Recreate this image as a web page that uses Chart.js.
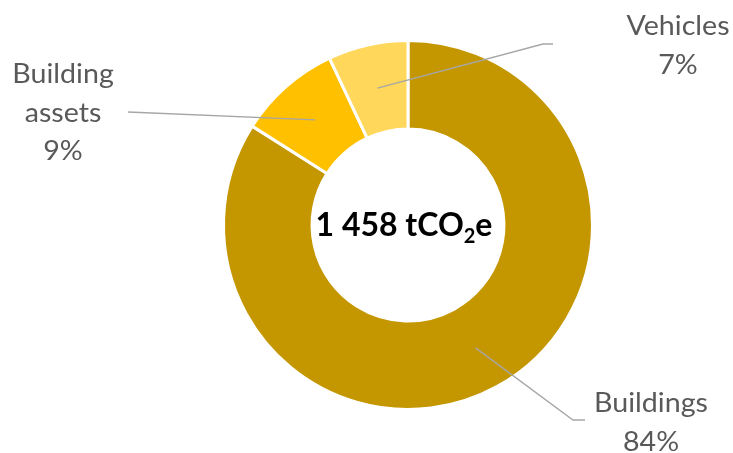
<!DOCTYPE html>
<html>
<head>
<meta charset="utf-8">
<script src="https://cdn.jsdelivr.net/npm/chart.js@4.4.1/dist/chart.umd.min.js"></script>
<style>
  html, body { margin: 0; padding: 0; background: #ffffff; }
  #wrap { width: 733px; height: 453px; position: relative; }
</style>
</head>
<body>
<div id="wrap"><canvas id="c"></canvas></div>
<script>
// Emission sources and their share of the total footprint (%)
const categories = ['Buildings', 'Building assets', 'Vehicles'];
const shares = [84, 9, 7];
const totalEmissions = 1458; // tCO2e

const sliceColors = ['#C49700', '#FFC000', '#FFD75A'];

// Callout layout for each slice: where the label text sits and how the leader line runs
const callouts = [
  { text: { x: 651, y: 412 }, path: [{ x: 573, y: 420 }, { x: 585, y: 420 }] },
  { text: { x: 63, y: 83 },  path: [{ x: 128, y: 112 }] },
  { text: { x: 678, y: 35 },  path: [{ x: 543, y: 44 }, { x: 553, y: 44 }] }
];

const LABEL_FONT = '27px Lato';
const LINE_STEP = 38.5;

const calloutPlugin = {
  id: 'callouts',
  afterDatasetsDraw(chart) {
    const ctx = chart.ctx;
    const arcs = chart.getDatasetMeta(0).data;
    ctx.save();
    arcs.forEach((arc, i) => {
      const c = callouts[i];
      const p = arc.getCenterPoint();
      ctx.beginPath();
      ctx.strokeStyle = '#A6A6A6';
      ctx.lineWidth = 1.3;
      ctx.moveTo(p.x, p.y);
      c.path.forEach(pt => ctx.lineTo(pt.x, pt.y));
      ctx.stroke();
    });
    ctx.fillStyle = '#595959';
    ctx.font = LABEL_FONT;
    ctx.textAlign = 'center';
    ctx.textBaseline = 'alphabetic';
    arcs.forEach((arc, i) => {
      const c = callouts[i];
      const words = categories[i] === 'Building assets' ? ['Building', 'assets'] : [categories[i]];
      const lines = words.concat([shares[i] + '%']);
      lines.forEach((ln, k) => {
        // stretch slightly so the words keep the wide humanist proportions
        ctx.save();
        ctx.translate(c.text.x, c.text.y + k * LINE_STEP);
        ctx.scale(1.06, 1);
        ctx.fillText(ln, 0, 0);
        ctx.restore();
      });
    });
    ctx.restore();
  }
};

// Total shown in the hole of the ring, with a subscript 2 in CO2
const centerPlugin = {
  id: 'centerTotal',
  afterDatasetsDraw(chart) {
    const ctx = chart.ctx;
    const meta = chart.getDatasetMeta(0);
    const cx = meta.data[0].x - 4;
    const cy = meta.data[0].y;
    const num = String(totalEmissions).replace(/\B(?=(\d{3})+(?!\d))/g, ' ');
    const partA = num + ' tCO';
    const partB = '2';
    const partC = 'e';
    const big = 'bold 32px Lato';
    const small = 'bold 20px Lato';
    ctx.save();
    ctx.fillStyle = '#000000';
    ctx.textBaseline = 'alphabetic';
    ctx.textAlign = 'left';
    ctx.font = big;
    const wA = ctx.measureText(partA).width;
    const wC = ctx.measureText(partC).width;
    ctx.font = small;
    const wB = ctx.measureText(partB).width;
    const total = wA + wB + wC;
    let x = cx - total / 2;
    const base = cy + 11;
    ctx.font = big;
    ctx.fillText(partA, x, base);
    x += wA;
    ctx.font = small;
    ctx.fillText(partB, x, base + 7);
    x += wB;
    ctx.font = big;
    ctx.fillText(partC, x, base);
    ctx.restore();
  }
};

new Chart(document.getElementById('c'), {
  type: 'doughnut',
  data: {
    labels: categories,
    datasets: [{
      data: shares,
      backgroundColor: sliceColors,
      borderColor: '#ffffff',
      borderWidth: 3,
      hoverOffset: 0
    }]
  },
  options: {
    responsive: true,
    maintainAspectRatio: false,
    animation: false,
    cutout: '52%',
    layout: { padding: { left: 222, right: 139, top: 39, bottom: 42 } },
    plugins: {
      legend: { display: false },
      tooltip: { enabled: false }
    }
  },
  plugins: [calloutPlugin, centerPlugin]
});
</script>
</body>
</html>
